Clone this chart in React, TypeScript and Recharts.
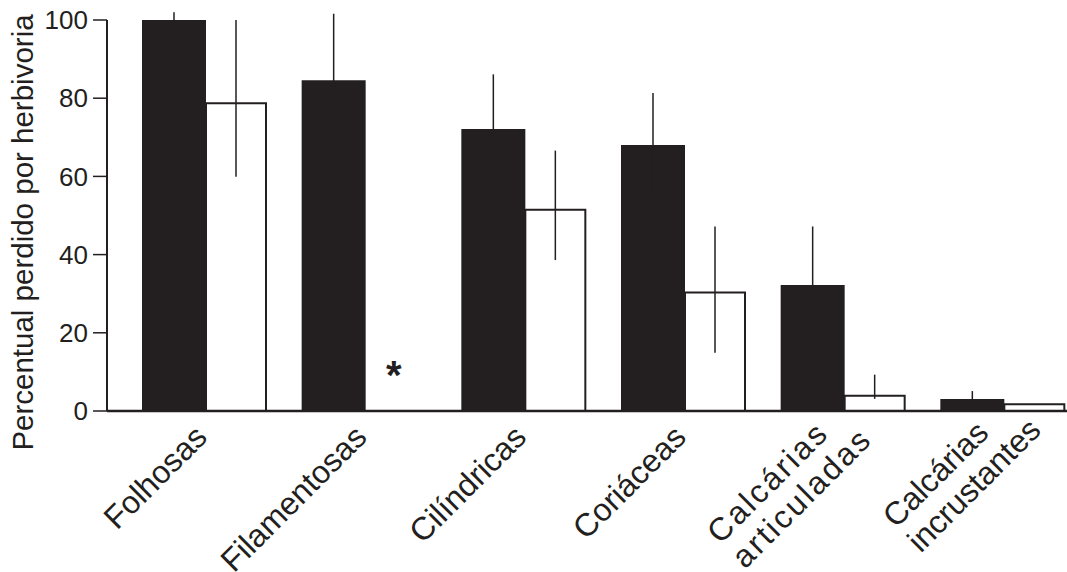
import React from "react";
import { BarChart, Bar, XAxis, YAxis, ErrorBar, LabelList } from "recharts";

// values (percent lost to herbivory)
const categories = [
  "Folhosas",
  "Filamentosas",
  "Cilíndricas",
  "Coriáceas",
  "Calcárias\narticuladas",
  "Calcárias\nincrustantes",
];
const darkValues = [100, 84.6, 72.1, 68.0, 32.2, 3.1];
const darkErrors = [2, 17, 14, 13.3, 15, 2];
const lightValues = [78.7, 0, 51.5, 30.3, 3.9, 1.7];
const lightErrors: [number, number][] = [
  [18.8, 21.3],
  [0, 0],
  [12.9, 15.1],
  [15.4, 16.9],
  [0.8, 5.4],
  [0, 0],
];
// marks the missing light bar
const notes = ["", "*", "", "", "", ""];
const yTicks = [0, 20, 40, 60, 80, 100];
const yLabel = "Percentual perdido por herbivoria";

const INK = "#231f20";
const FONT = "'Liberation Sans', Arial, Helvetica, sans-serif";
const X_FONT_SIZE = 32;
const X_LINE_H = 35;
const DARK_BAR = 64;
const LIGHT_BAR = 60;
// the scanned figure sets this one label a bit looser
const labelSpacing: Record<string, number> = { "Calcárias\narticuladas": 2.5 };

const rows = categories.map((name, i) => ({
  name,
  dark: darkValues[i],
  darkErr: darkErrors[i],
  light: lightValues[i],
  lightErr: lightErrors[i],
  note: notes[i],
}));

let measureCtx: CanvasRenderingContext2D | null = null;
function textWidth(s: string, size: number, spacing: number) {
  if (!measureCtx) measureCtx = document.createElement("canvas").getContext("2d");
  if (!measureCtx) return s.length * size * 0.5;
  measureCtx.font = `${size}px ${FONT}`;
  return measureCtx.measureText(s).width + spacing * s.length;
}

// rotated category label, lines left-aligned, first line ends near the tick
function CategoryTick(props: any) {
  const { x, y, payload } = props;
  const label = String(payload.value);
  const lines = label.split("\n");
  const spacing = labelSpacing[label] || 0;
  const w1 = textWidth(lines[0], X_FONT_SIZE, spacing);
  const n = lines.length;
  const shiftAlong = n > 1 ? -9 : 0;
  const shiftUp = (n - 1) * 15;
  return (
    <g transform={`translate(${x + 5},${y + 28}) rotate(-45)`}>
      {lines.map((ln, i) => (
        <text
          key={i}
          x={-w1 + shiftAlong}
          y={i * X_LINE_H - shiftUp}
          textAnchor="start"
          fill={INK}
          fontSize={X_FONT_SIZE}
          fontFamily={FONT}
          letterSpacing={spacing}
        >
          {ln}
        </text>
      ))}
    </g>
  );
}

function YTitle(props: any) {
  const vb = props.viewBox || { x: 0, y: 0, width: 0, height: 0 };
  const cx = vb.x + 33;
  const cy = vb.y + vb.height / 2 + 17;
  return (
    <text
      x={cx}
      y={cy}
      transform={`rotate(-90 ${cx} ${cy})`}
      textAnchor="middle"
      fill={INK}
      fontSize={29.5}
      fontFamily={FONT}
    >
      {yLabel}
    </text>
  );
}

// asterisk sits where the light bar would be, just above the baseline
function NoteMark(props: any) {
  const { x, y, width, height, value } = props;
  if (!value) return null;
  return (
    <text
      x={Number(x) + Number(width) + LIGHT_BAR / 2 - 2}
      y={Number(y) + Number(height) - 22}
      textAnchor="middle"
      fill={INK}
      fontSize={40}
      fontWeight="bold"
      fontFamily={FONT}
    >
      {value}
    </text>
  );
}

export default function App() {
  return (
    <div
      style={{
        position: "absolute",
        left: 0,
        top: 0,
        width: 1067,
        height: 572,
        overflow: "hidden",
        background: "#fff",
      }}
    >
      <BarChart
        width={1090}
        height={572}
        data={rows}
        margin={{ top: 20, right: 8, bottom: 0, left: 0 }}
        barGap={0}
      >
        <XAxis
          dataKey="name"
          height={161}
          padding={{ left: 17, right: 0 }}
          axisLine={{ stroke: INK, strokeWidth: 2.5 }}
          tickLine={false}
          tickSize={0}
          tickMargin={0}
          interval={0}
          tick={<CategoryTick />}
        />
        <YAxis
          width={107}
          domain={[0, 100]}
          allowDataOverflow
          ticks={yTicks}
          tickSize={14}
          tickMargin={5}
          axisLine={{ stroke: INK, strokeWidth: 2 }}
          tickLine={{ stroke: INK, strokeWidth: 1.5 }}
          tick={{ fill: INK, fontSize: 26, fontFamily: FONT }}
          label={{ content: <YTitle /> } as any}
        />
        <Bar dataKey="dark" fill={INK} barSize={DARK_BAR} isAnimationActive={false}>
          <ErrorBar dataKey="darkErr" width={0} stroke={INK} strokeWidth={1.5} direction="y" />
          <LabelList dataKey="note" content={<NoteMark />} />
        </Bar>
        <Bar
          dataKey="light"
          fill="#ffffff"
          stroke={INK}
          strokeWidth={2}
          barSize={LIGHT_BAR}
          isAnimationActive={false}
        >
          <ErrorBar dataKey="lightErr" width={0} stroke={INK} strokeWidth={1.5} direction="y" />
        </Bar>
      </BarChart>
    </div>
  );
}
